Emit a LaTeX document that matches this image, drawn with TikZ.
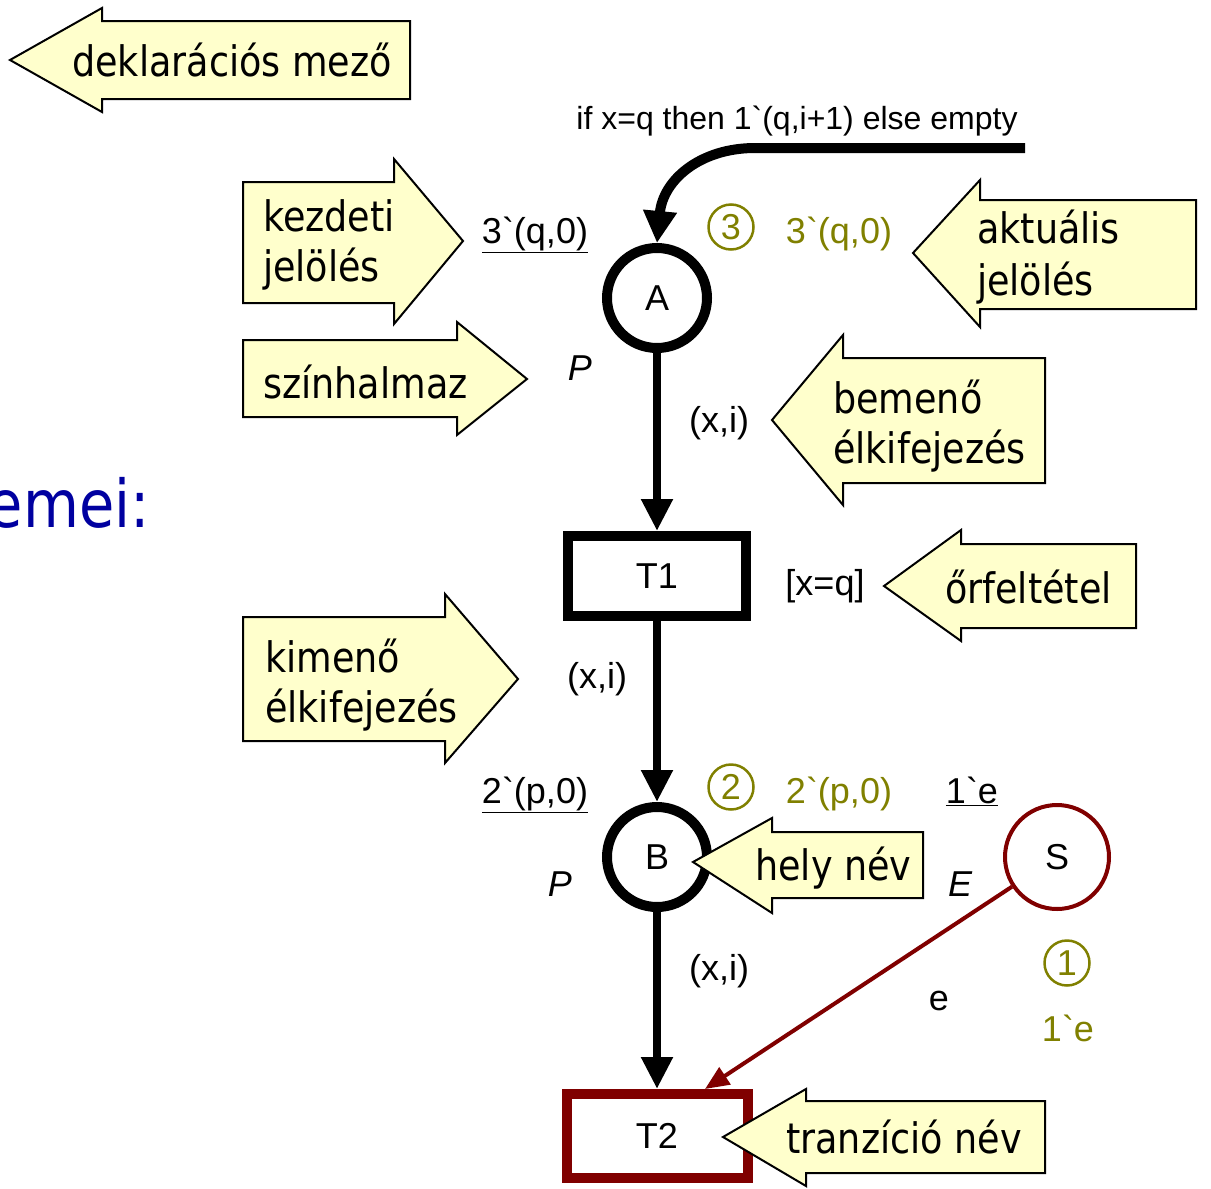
\documentclass[tikz,border=0pt]{standalone}
\usepackage{fontspec}
\setmainfont{Liberation Sans}[Ligatures=TeXOff]
\newfontfamily\tah[FakeStretch=0.87]{DejaVu Sans}
\usetikzlibrary{arrows.meta}
\definecolor{myolive}{RGB}{128,128,0}
\definecolor{mydarkred}{RGB}{128,0,0}
\definecolor{callfill}{RGB}{255,255,204}
\definecolor{myblue}{RGB}{0,0,160}
\begin{document}
\begin{tikzpicture}[x=1pt,y=-1pt,
  place/.style={circle, draw, line width=10pt, minimum size=100pt, inner sep=0pt, font=\fontsize{36}{43}\selectfont},
  trans/.style={rectangle, draw, line width=10pt, minimum width=178pt, minimum height=80pt, inner sep=0pt, font=\fontsize{36}{43}\selectfont},
  arcthick/.style={line width=8pt, -{Triangle[length=32pt,width=30pt]}},
  lab/.style={font=\fontsize{36}{43}\selectfont, inner sep=0pt, anchor=base},
  olab/.style={lab, text=myolive},
  numc/.style={circle, draw=myolive, line width=2.5pt, minimum size=45pt, inner sep=0pt, text=myolive, font=\fontsize{36}{40}\selectfont},
  call/.style={draw=black, line width=2pt, fill=callfill, line join=miter},
  ctext/.style={font=\tah\fontsize{42}{50}\selectfont, inner sep=0pt, anchor=base west}
]
\useasboundingbox (0,0) rectangle (1211,1189);

% places and transitions
\node[place] (A) at (657,298) {A};
\node[trans] (T1) at (657,576) {T1};
\node[place] (B) at (657,857) {B};
\node[place, draw=mydarkred, line width=4pt, minimum size=104pt] (S) at (1057,857) {S};
\node[trans, draw=mydarkred, minimum width=181pt, minimum height=84pt] (T2) at (657,1136) {T2};

% connectors
\coordinate (fin) at (1025,148);
\draw[line width=10pt, -{Triangle[length=32pt,width=32pt]}] (fin) -- (755,148) .. controls (700,148) and (663,180) .. (A.north);
\draw[arcthick] (A) -- (T1);
\draw[arcthick] (T1) -- (B);
\draw[arcthick] (B) -- (T2);
\draw[line width=4pt, mydarkred, -{Triangle[length=24pt,width=20pt]}] (S) -- ([xshift=48pt]T2.north);

% labels
\node[lab, font=\fontsize{32}{38}\selectfont] (guardtop) at (797,129) {if x=q then 1`(q,i+1) else empty};
\node[lab] (initA) at (535,243) {\underline{3`(q,0)}};
\node[numc] (n3) at (731,227) {3};
\node[olab] (curA) at (839,243) {3`(q,0)};
\node[lab] (PA) at (580,380) {\itshape P};
\node[lab] (e1) at (719,432) {(x,i)};
\node[lab] (g1) at (825,595) {[x=q]};
\node[lab] (e2) at (597,688) {(x,i)};
\node[lab] (initB) at (535,803) {\underline{2`(p,0)}};
\node[numc] (n2) at (731,787) {2};
\node[olab] (curB) at (839,803) {2`(p,0)};
\node[lab] (initS) at (972,803) {\underline{1`e}};
\node[lab] (PB) at (560,896) {\itshape P};
\node[lab] (ES) at (960,896) {\itshape E};
\node[lab] (e3) at (719,980) {(x,i)};
\node[lab] (e4) at (939,1010) {e};
\node[numc] (n1) at (1067,963) {1};
\node[olab] (curS) at (1068,1041) {1`e};

\node[text=myblue, font=\tah\fontsize{66}{72}\selectfont, inner sep=0pt, anchor=base east] (emei) at (150,527) {emei:};

% callouts
\draw[call] (10,60) -- (102,8) -- (102,21) -- (410,21) -- (410,99) -- (102,99) -- (102,112) -- cycle;
\node[ctext] (c1) at (72,76) {deklarációs mező};

\draw[call] (243,182) -- (394,182) -- (394,159) -- (463,241) -- (394,324) -- (394,303) -- (243,303) -- cycle;
\node[ctext] (c2a) at (263,231) {kezdeti};
\node[ctext] (c2b) at (263,281) {jelölés};

\draw[call] (243,340) -- (457,340) -- (457,322) -- (527,379) -- (457,435) -- (457,417) -- (243,417) -- cycle;
\node[ctext] (c3) at (263,398) {színhalmaz};

\draw[call] (913,253) -- (980,180) -- (980,200) -- (1196,200) -- (1196,309) -- (980,309) -- (980,327) -- cycle;
\node[ctext] (c4a) at (977,243) {aktuális};
\node[ctext] (c4b) at (977,295) {jelölés};

\draw[call] (772,420) -- (843,335) -- (843,358) -- (1045,358) -- (1045,483) -- (843,483) -- (843,505) -- cycle;
\node[ctext] (c5a) at (833,413) {bemenő};
\node[ctext] (c5b) at (833,463) {élkifejezés};

\draw[call] (884,586) -- (961,530) -- (961,544) -- (1136,544) -- (1136,628) -- (961,628) -- (961,641) -- cycle;
\node[ctext] (c6) at (945,603) {őrfeltétel};

\draw[call] (243,617) -- (445,617) -- (445,594) -- (518,679) -- (445,763) -- (445,741) -- (243,741) -- cycle;
\node[ctext] (c7a) at (265,672) {kimenő};
\node[ctext] (c7b) at (265,722) {élkifejezés};

\draw[call] (693,862) -- (772,818) -- (772,832) -- (923,832) -- (923,898) -- (772,898) -- (772,913) -- cycle;
\node[ctext] (c8) at (755,880) {hely név};

\draw[call] (723,1137) -- (806,1089) -- (806,1101) -- (1045,1101) -- (1045,1173) -- (806,1173) -- (806,1186) -- cycle;
\node[ctext] (c9) at (786,1153) {tranzíció név};
\end{tikzpicture}
\end{document}
